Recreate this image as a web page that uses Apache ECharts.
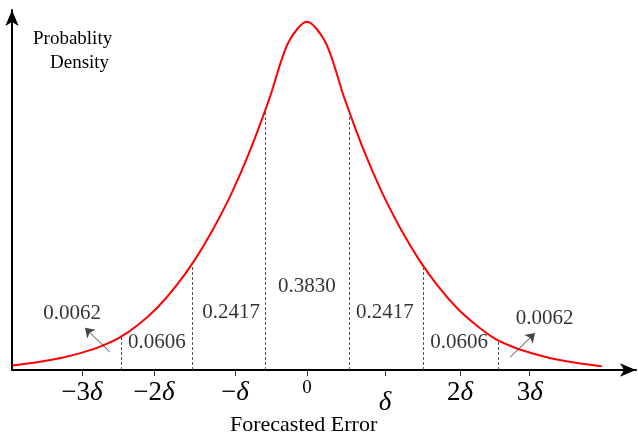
<!DOCTYPE html>
<html>
<head>
<meta charset="utf-8">
<script src="https://cdn.jsdelivr.net/npm/echarts@6/dist/echarts.min.js"></script>
<style>html,body{margin:0;padding:0;background:#fff}#main{width:638px;height:441px}</style>
</head>
<body>
<div id="main"></div>
<script>
// curve, x in units of delta (step 0.25), y relative to peak
var curveX = [-3.93, -3.75, -3.5, -3.25, -3, -2.75, -2.5, -2.25, -2, -1.75, -1.5, -1.25, -1, -0.75, -0.5, -0.25, 0,
              0.25, 0.5, 0.75, 1, 1.25, 1.5, 1.75, 2, 2.25, 2.5, 2.75, 3, 3.25, 3.5, 3.75, 3.93];
var curveY = [0.013, 0.018, 0.026, 0.036, 0.05, 0.068, 0.093, 0.13, 0.178, 0.24, 0.315, 0.405, 0.51, 0.635, 0.78, 0.94, 1,
              0.94, 0.78, 0.635, 0.51, 0.405, 0.315, 0.24, 0.178, 0.13, 0.091, 0.066, 0.048, 0.034, 0.024, 0.016, 0.011];
// dashed boundaries
var cutX = [-2.48, -1.53, -0.55, 0.56, 1.55, 2.55];
var cutY = [0.095, 0.305, 0.75, 0.745, 0.298, 0.086];
// probability labels
var probText = ['0.0062', '0.0606', '0.2417', '0.3830', '0.2417', '0.0606', '0.0062'];
var probX = [-3.13, -2.0, -1.01, 0, 1.04, 2.03, 3.17];
var probY = [0.161, 0.08, 0.164, 0.239, 0.164, 0.08, 0.149];
// tick positions and labels
var tickX = [-3.0, -2.04, -0.96, 0, 1.04, 2.04, 2.97];
var tickText = ['{n|−3}{d|δ}', '{n|−2}{d|δ}', '{n|−}{d|δ}', '{z|0}', '{dl|δ}', '{n|2}{d|δ}', '{n|3}{d|δ}'];

var chart = echarts.init(document.getElementById('main'));
var serif = '"Liberation Serif", "DejaVu Serif", serif';

var curve = curveX.map(function (x, i) { return [x, curveY[i]]; });
var cuts = cutX.map(function (x, i) {
  return [{coord: [x, 0]}, {coord: [x, cutY[i]]}];
});
var probs = probX.map(function (x, i) { return {value: [x, probY[i]], name: probText[i]}; });

option = {
  animation: false,
  grid: {left: 12, right: 2, top: 10, bottom: 71},
  xAxis: {
    type: 'value', min: -3.933, max: 4.387,
    splitLine: {show: false},
    axisLine: {onZero: false, lineStyle: {color: '#000', width: 2}, symbol: ['none', 'arrow'], symbolSize: [10, 16]},
    axisTick: {show: true, customValues: tickX, length: 6, inside: false, lineStyle: {color: '#333'}},
    axisLabel: {
      customValues: tickX, margin: 9,
      formatter: function (v) {
        for (var i = 0; i < tickX.length; i++) if (Math.abs(tickX[i] - v) < 1e-6) return tickText[i];
        return '';
      },
      rich: {
        n: {fontFamily: serif, fontSize: 27, color: '#000'},
        d: {fontFamily: serif, fontSize: 27, fontStyle: 'italic', color: '#000'},
        z: {fontFamily: serif, fontSize: 19, color: '#000'},
        dl: {fontFamily: serif, fontSize: 27, fontStyle: 'italic', color: '#000', padding: [10, 0, 0, 0]}
      }
    }
  },
  yAxis: {
    type: 'value', min: 0, max: 1.034,
    splitLine: {show: false}, axisTick: {show: false}, axisLabel: {show: false},
    axisLine: {show: true, onZero: false, lineStyle: {color: '#000', width: 2}, symbol: ['none', 'arrow'], symbolSize: [10, 16]}
  },
  graphic: [
    {type: 'text', left: 33, top: 30, style: {text: 'Probablity', font: '19px ' + serif, fill: '#000'}},
    {type: 'text', left: 50, top: 54, style: {text: 'Density', font: '19px ' + serif, fill: '#000'}},
    {type: 'text', left: 230, top: 414, style: {text: 'Forecasted Error', font: '22px ' + serif, fill: '#000'}}
  ],
  series: [
    {
      type: 'line', data: curve, smooth: 0.3, showSymbol: false,
      lineStyle: {color: '#ff0000', width: 2},
      markLine: {
        silent: true, symbol: 'none', label: {show: false},
        lineStyle: {color: '#555', type: [3, 2], width: 1},
        data: cuts
      }
    },
    {
      type: 'line', data: [],
      markLine: {
        silent: true, symbol: ['none', 'arrow'], symbolSize: 9, label: {show: false},
        lineStyle: {color: '#444', type: 'solid', width: 1},
        data: [
          [{coord: [-2.63, 0.052]}, {coord: [-2.96, 0.121]}],
          [{coord: [2.71, 0.037]}, {coord: [3.04, 0.106]}]
        ]
      }
    },
    {
      type: 'scatter', data: probs, symbolSize: 0,
      label: {show: true, position: 'inside', formatter: '{b}', fontFamily: serif, fontSize: 21, color: '#000'}
    }
  ]
};
chart.setOption(option);
</script>
</body>
</html>
